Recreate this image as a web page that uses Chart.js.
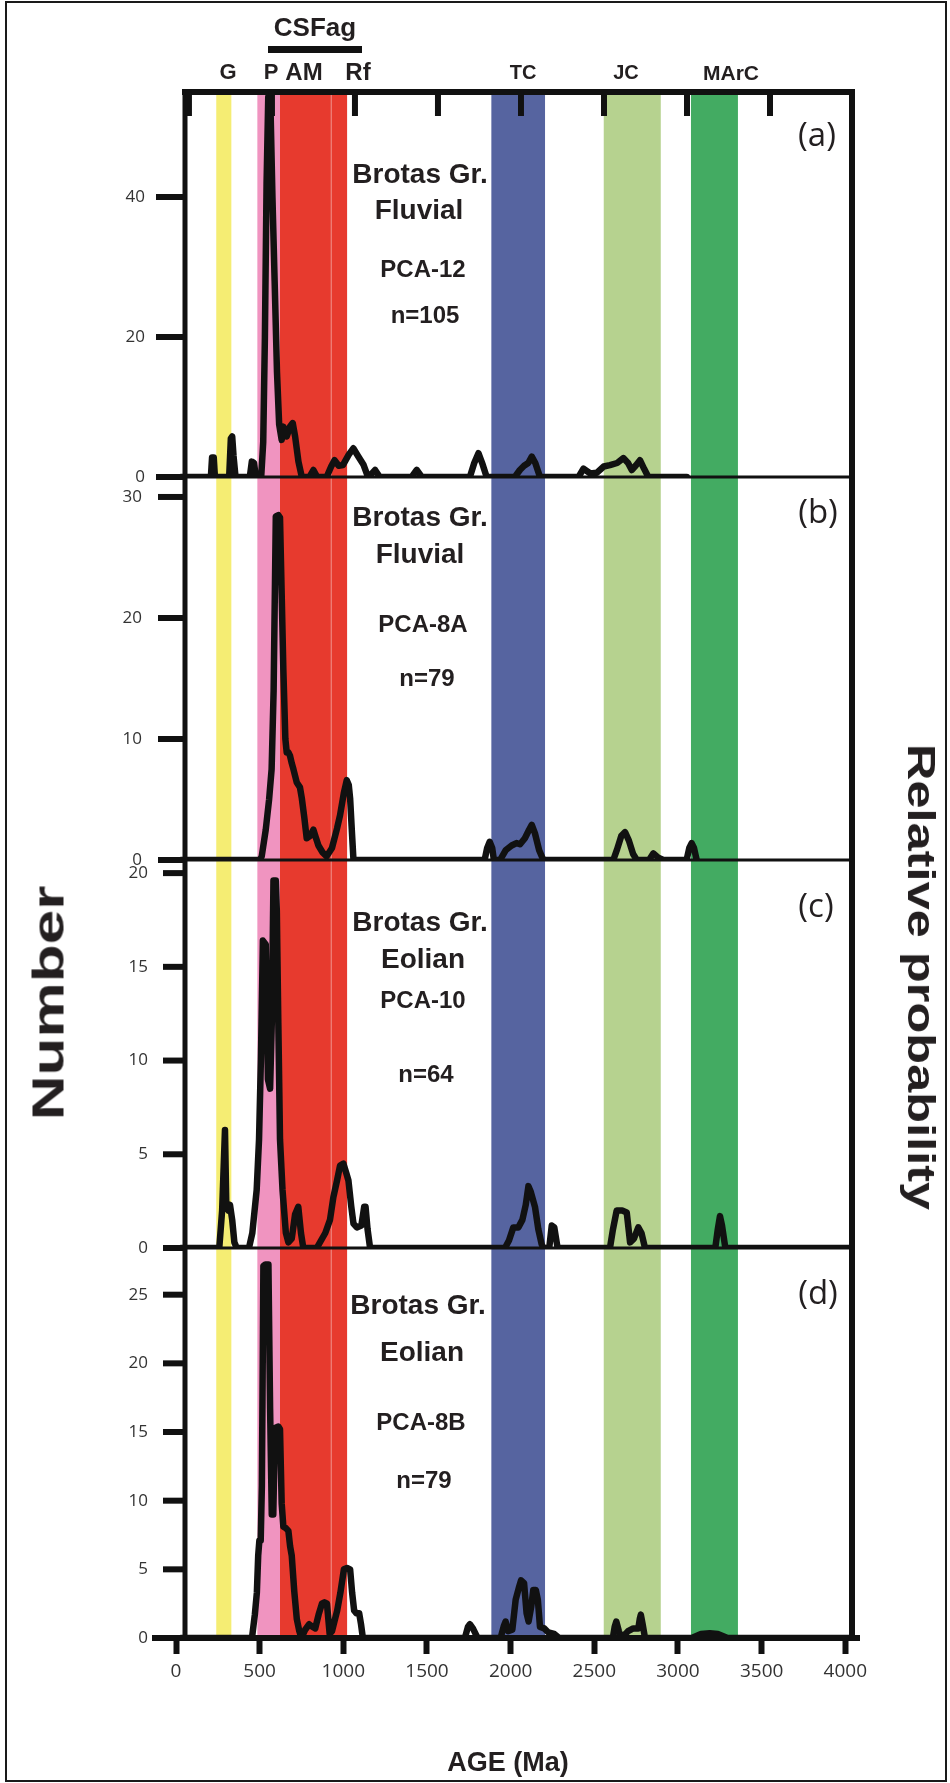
<!DOCTYPE html>
<html>
<head>
<meta charset="utf-8">
<title>Brotas Group detrital zircon ages</title>
<script src="https://cdn.jsdelivr.net/npm/chart.js@4.4.1/dist/chart.umd.min.js"></script>
<style>
  html, body { margin: 0; padding: 0; background: #fff; }
  #fig { position: relative; width: 950px; height: 1783px; overflow: hidden; background: #fff; }
  #fig canvas { position: absolute; left: 0; top: 0; }
  #border { position: absolute; left: 5px; top: 1px; width: 938px; height: 1777px; border: 2px solid #1a1a1a; }
  .t { position: absolute; transform: translate(-50%, -50%); white-space: nowrap; line-height: 1;
       font-family: "Liberation Sans", Arial, sans-serif; font-weight: bold; color: #231f20; z-index: 10; }
  .lt { font-family: "Open Sans", sans-serif; font-weight: normal; }
  #bar { position: absolute; left: 268px; top: 46px; width: 94px; height: 7px; background: #111; z-index: 10; }
</style>
</head>
<body>
<div id="fig">
  <div id="border"></div>
  <canvas id="pa" width="950" height="1783" style="z-index:4"></canvas>
  <canvas id="pb" width="950" height="1783" style="z-index:3"></canvas>
  <canvas id="pc" width="950" height="1783" style="z-index:2"></canvas>
  <canvas id="pd" width="950" height="1783" style="z-index:1"></canvas>

  <div class="t" style="left:315px;top:27px;font-size:26px">CSFag</div>
  <div id="bar"></div>
  <div class="t" style="left:228px;top:72px;font-size:22px">G</div>
  <div class="t" style="left:271px;top:72px;font-size:22px">P</div>
  <div class="t" style="left:304px;top:72px;font-size:24px">AM</div>
  <div class="t" style="left:358px;top:72px;font-size:24px">Rf</div>
  <div class="t" style="left:523px;top:72px;font-size:20px">TC</div>
  <div class="t" style="left:626px;top:72px;font-size:20px">JC</div>
  <div class="t" style="left:731px;top:72px;font-size:21px">MArC</div>

  <div class="t" style="left:420px;top:174px;font-size:28px">Brotas Gr.</div>
  <div class="t" style="left:419px;top:210px;font-size:28px">Fluvial</div>
  <div class="t" style="left:423px;top:269px;font-size:24px">PCA-12</div>
  <div class="t" style="left:425px;top:315px;font-size:24px">n=105</div>
  <div class="t lt" style="left:817px;top:133px;font-size:33px">(a)</div>

  <div class="t" style="left:420px;top:517px;font-size:28px">Brotas Gr.</div>
  <div class="t" style="left:420px;top:554px;font-size:28px">Fluvial</div>
  <div class="t" style="left:423px;top:624px;font-size:24px">PCA-8A</div>
  <div class="t" style="left:427px;top:678px;font-size:24px">n=79</div>
  <div class="t lt" style="left:818px;top:510px;font-size:33px">(b)</div>

  <div class="t" style="left:420px;top:922px;font-size:28px">Brotas Gr.</div>
  <div class="t" style="left:423px;top:959px;font-size:28px">Eolian</div>
  <div class="t" style="left:423px;top:1000px;font-size:24px">PCA-10</div>
  <div class="t" style="left:426px;top:1074px;font-size:24px">n=64</div>
  <div class="t lt" style="left:816px;top:904px;font-size:33px">(c)</div>

  <div class="t" style="left:418px;top:1305px;font-size:28px">Brotas Gr.</div>
  <div class="t" style="left:422px;top:1352px;font-size:28px">Eolian</div>
  <div class="t" style="left:421px;top:1422px;font-size:24px">PCA-8B</div>
  <div class="t" style="left:424px;top:1480px;font-size:24px">n=79</div>
  <div class="t lt" style="left:818px;top:1291px;font-size:33px">(d)</div>

  <div class="t" style="left:48px;top:1003px;font-size:45px;transform:translate(-50%,-50%) rotate(-90deg) scaleX(1.38)">Number</div>
  <div class="t" style="left:921px;top:977px;font-size:38px;transform:translate(-50%,-50%) rotate(90deg) scaleX(1.33)">Relative probability</div>
  <div class="t" style="left:508px;top:1762px;font-size:27px">AGE (Ma)</div>
</div>

<script>
// age axis (Ma)
const ageTicks = [0, 500, 1000, 1500, 2000, 2500, 3000, 3500, 4000];
const frameTicks = [0, 500, 1000, 1500, 2000, 2500, 3000, 3500];

// shaded events: G, P, AM, Rf, TC, JC, MArC (Ma)
const bandStart = [210, 455, 590, 895, 1850, 2520, 3040];
const bandEnd   = [300, 590, 895, 990, 2170, 2860, 3320];
const bandFill  = ['#f5ed73', '#f094c0', '#e73a2e', '#e73a2e', '#5664a0', '#b6d28f', '#43ab62'];

// number tick labels for each panel
const ticksA = [0, 20, 40];
const ticksB = [0, 10, 20, 30];
const ticksC = [0, 5, 10, 15, 20];
const ticksD = [0, 5, 10, 15, 20, 25];

// age-probability curves, [age Ma, number]
const pca12 = [[0,0],[178,0],[185,2.8],[195,2.8],[202,0],[287,0],[297,5.5],[305,5.8],[313,3],[325,0],
  [410,0],[422,2.2],[435,2.0],[446,0],[478,0],[490,5],[500,20],[510,42],[520,54.3],[532,54.3],[545,40],
  [558,28],[572,15],[585,7.5],[600,5.3],[610,7.2],[630,5.8],[650,7.2],[666,7.7],[680,5.8],[700,2.2],[720,0],
  [765,0],[789,1.0],[812,0],[868,0],[895,1.5],[915,2.4],[940,1.6],[965,1.7],[1000,3.2],[1027,4.1],[1055,3.0],
  [1087,1.8],[1110,0.3],[1130,0.3],[1157,1.0],[1185,0],[1375,0],[1405,1.0],[1435,0],[1722,0],[1748,2.0],
  [1773,3.4],[1798,1.8],[1822,0],[1990,0],[2020,1.0],[2045,1.6],[2070,2.0],[2091,2.9],[2112,2.0],[2140,0],
  [2370,0],[2399,1.2],[2440,0.5],[2478,0.6],[2520,1.5],[2557,1.7],[2600,2.0],[2637,2.7],[2665,2.0],[2687,1.0],
  [2710,1.6],[2736,2.4],[2760,1.2],[2786,0],[3015,0]];

const pca8a = [[0,0],[470,0],[481,0.3],[505,2.5],[525,5],[540,7.5],[552,14],[565,28.4],[580,28.5],[590,28.3],
  [600,22],[610,15.7],[622,10],[630,8.9],[640,8.9],[650,8.6],[660,8.0],[670,7.5],[690,6.4],[709,6.0],[720,5.1],
  [735,3.5],[749,1.8],[770,2.0],[789,2.5],[805,1.8],[819,1.2],[845,0.6],[868,0.3],[900,1.0],[930,2.6],[948,3.7],
  [970,5.5],[988,6.6],[1000,6.2],[1008,5.1],[1018,2.5],[1028,0],[1810,0],[1825,1.0],[1840,1.5],[1855,1.0],
  [1865,0],[1902,0],[1935,0.8],[1971,1.2],[2000,1.4],[2021,1.3],[2050,1.8],[2075,2.5],[2091,2.9],[2110,2.2],
  [2135,0.8],[2160,0],[2577,0],[2600,0.9],[2625,2.0],[2647,2.3],[2670,1.6],[2695,0.5],[2717,0],[2790,0],
  [2816,0.55],[2845,0.2],[2875,0],[3014,0],[3030,1.0],[3044,1.4],[3058,1.0],[3074,0]];

const pca10 = [[0,0],[228,0],[245,2],[262,6.3],[270,2.2],[282,2.0],[292,2.3],[305,1.5],[318,0.3],[332,0],
  [405,0],[425,0.8],[451,3.1],[465,5.8],[476,10],[488,16.4],[505,16.2],[518,9],[531,8.5],[541,12],[551,19.6],
  [565,19.6],[571,18],[580,12],[590,5.8],[605,3.1],[625,0.8],[640,0.3],[660,0.5],[680,1.8],[699,2.2],[715,0.8],
  [729,0],[809,0],[860,0.8],[888,1.5],[908,2.7],[930,3.6],[948,4.4],[968,4.5],[985,4.0],[998,3.6],[1015,2.2],
  [1028,1.3],[1048,1.1],[1075,1.2],[1092,2.2],[1100,2.2],[1112,1.0],[1127,0],[1931,0],[1955,0.4],[1981,1.1],
  [2011,1.1],[2035,1.5],[2055,2.3],[2071,3.3],[2085,3.0],[2110,2.2],[2130,1.0],[2150,0.2],[2160,0],[2195,0],
  [2210,1.2],[2225,1.1],[2245,0],[2557,0],[2575,1.0],[2597,2.0],[2630,2.0],[2657,1.9],[2677,0.3],[2700,0.5],
  [2726,1.1],[2745,0.8],[2766,0],[3185,0],[3200,1.0],[3213,1.7],[3225,1.2],[3245,0],[4000,0]];

const pca8b = [[0,0],[423,0],[440,1.7],[452,3.3],[460,6.0],[467,7.1],[475,7.1],[482,11.1],[491,27.1],[503,27.2],
  [521,27.2],[531,16.7],[541,9.0],[550,9.0],[560,15.3],[580,15.4],[590,15.2],[600,9.8],[610,8.1],[625,8.0],
  [640,7.8],[650,6.7],[660,6.0],[675,3.4],[690,1.4],[705,0.5],[718,0],[740,0.6],[764,1.0],[785,0.8],[800,0.7],
  [820,1.7],[840,2.5],[855,2.6],[870,2.5],[886,0.3],[900,0.5],[931,2.0],[950,3.3],[971,5.0],[990,5.1],[1008,5.0],
  [1020,3.3],[1032,2.0],[1045,1.8],[1062,1.8],[1073,1.0],[1084,0],[1692,0],[1710,0.8],[1722,1.0],[1740,0.7],
  [1768,0],[1905,0],[1925,0.9],[1935,1.2],[1950,0.5],[1975,0.6],[1995,2.8],[2015,3.7],[2027,4.2],[2045,4.0],
  [2060,1.8],[2072,1.2],[2088,2.3],[2100,3.5],[2115,3.5],[2127,2.8],[2140,0.8],[2165,0.7],[2190,0.4],[2225,0.3],
  [2254,0],[2574,0],[2585,0.8],[2595,1.2],[2610,0.5],[2625,0],[2650,0.3],[2665,0.5],[2696,0.7],[2726,0.7],
  [2735,1.4],[2741,1.7],[2752,1.0],[2766,0],[3045,0],[3100,0.3],[3152,0.35],[3200,0.3],[3258,0],[4000,0]];

// page geometry
const plotLeft = 176, plotRight = 852, axisBox = 80, ageBox = 60, axisInset = 9;

const panels = [
  { canvas: 'pa', data: pca12, ticks: ticksA, yMax: 55,    top: 92,   bottom: 477,  tick: 29, pad: 23, frameTop: true },
  { canvas: 'pb', data: pca8a, ticks: ticksB, yMax: 31.65, top: 477,  bottom: 860,  tick: 27, pad: 26 },
  { canvas: 'pc', data: pca10, ticks: ticksC, yMax: 20.7,  top: 860,  bottom: 1248, tick: 22, pad: 20 },
  { canvas: 'pd', data: pca8b, ticks: ticksD, yMax: 28.4,  top: 1248, bottom: 1638, tick: 22, pad: 20, ageAxis: true }
];

// shaded bands, number axis, frame and inward ticks
const decor = {
  id: 'decor',
  beforeDraw(chart) {
    const { ctx, chartArea: a } = chart;
    const x = chart.scales.x;
    ctx.save();
    bandStart.forEach((from, i) => {
      const x0 = x.getPixelForValue(from);
      const x1 = x.getPixelForValue(bandEnd[i]);
      ctx.fillStyle = bandFill[i];
      ctx.fillRect(x0, a.top, x1 - x0, a.bottom - a.top);
      if (i > 0 && bandFill[i] === bandFill[i - 1]) {
        ctx.fillStyle = 'rgba(255,255,255,0.3)';
        ctx.fillRect(x0 - 0.6, a.top, 1.2, a.bottom - a.top);
      }
    });
    ctx.strokeStyle = '#111';
    ctx.lineWidth = 3;
    ctx.beginPath();
    ctx.moveTo(a.left + axisInset, a.bottom);
    ctx.lineTo(a.right, a.bottom);
    ctx.stroke();
    ctx.restore();
  },
  afterDraw(chart, args, opts) {
    const { ctx, chartArea: a } = chart;
    const y = chart.scales.y;
    const ax = a.left + axisInset;
    ctx.save();
    ctx.strokeStyle = '#111';

    // number axis with its tick marks
    ctx.lineWidth = 5;
    ctx.beginPath();
    ctx.moveTo(ax, a.top - (opts.frameTop ? 3 : 0));
    ctx.lineTo(ax, a.bottom);
    ctx.stroke();
    ctx.lineWidth = 6;
    y.ticks.forEach(t => {
      const py = y.getPixelForValue(t.value);
      ctx.beginPath();
      ctx.moveTo(ax - opts.tick, py);
      ctx.lineTo(ax, py);
      ctx.stroke();
    });

    // right frame
    ctx.beginPath();
    ctx.moveTo(a.right, a.top - (opts.frameTop ? 3 : 0));
    ctx.lineTo(a.right, a.bottom + (opts.ageAxis ? 3 : 0));
    ctx.stroke();

    if (opts.frameTop) {
      ctx.beginPath();
      ctx.moveTo(ax - 3, a.top);
      ctx.lineTo(a.right + 3, a.top);
      ctx.stroke();
      const s = chart.scales.xTop;
      frameTicks.forEach(v => {
        const px = s.getPixelForValue(v);
        ctx.beginPath();
        ctx.moveTo(px, a.top);
        ctx.lineTo(px, a.top + 24);
        ctx.stroke();
      });
    }
    if (opts.ageAxis) {
      ctx.beginPath();
      ctx.moveTo(a.left - 24, a.bottom);
      ctx.lineTo(a.right + 8, a.bottom);
      ctx.stroke();
    }
    ctx.restore();
  }
};

panels.forEach(p => {
  new Chart(document.getElementById(p.canvas), {
    type: 'line',
    data: {
      datasets: [{
        data: p.data.map(d => ({ x: d[0], y: d[1] })),
        borderColor: '#111',
        borderWidth: 6.5,
        borderJoinStyle: 'round',
        borderCapStyle: 'round',
        pointRadius: 0,
        tension: 0,
        fill: false
      }]
    },
    options: {
      responsive: false,
      animation: false,
      events: [],
      layout: {
        padding: {
          left: plotLeft - axisBox,
          right: 950 - plotRight,
          top: p.top,
          bottom: 1783 - p.bottom - (p.ageAxis ? ageBox : 0)
        }
      },
      plugins: {
        legend: { display: false },
        tooltip: { enabled: false },
        decor: { frameTop: !!p.frameTop, ageAxis: !!p.ageAxis, tick: p.tick }
      },
      scales: {
        x: { type: 'linear', display: false, min: -30, max: 4000 },
        xAge: {
          type: 'linear',
          axis: 'x',
          position: 'bottom',
          display: !!p.ageAxis,
          min: 0,
          max: 4040,
          afterBuildTicks: s => { s.ticks = ageTicks.map(v => ({ value: v })); },
          afterFit: p.ageAxis ? (s => { s.height = ageBox; }) : undefined,
          grid: { drawOnChartArea: false, tickLength: 16, tickWidth: 6, tickColor: '#111' },
          border: { color: '#111', width: 6 },
          ticks: {
            font: { family: 'Open Sans', size: 19 },
            color: '#333',
            padding: 6,
            maxRotation: 0,
            autoSkip: false,
            callback: v => String(v)
          }
        },
        xTop: { type: 'linear', axis: 'x', position: 'top', display: false, min: -78, max: 3994 },
        y: {
          type: 'linear',
          min: 0,
          max: p.yMax,
          afterBuildTicks: s => { s.ticks = p.ticks.map(v => ({ value: v })); },
          afterFit: s => { s.width = axisBox; },
          grid: { display: false },
          border: { display: false },
          ticks: { font: { family: 'Open Sans', size: 17 }, color: '#333', padding: p.pad }
        }
      }
    },
    plugins: [decor]
  });
});
</script>
</body>
</html>
